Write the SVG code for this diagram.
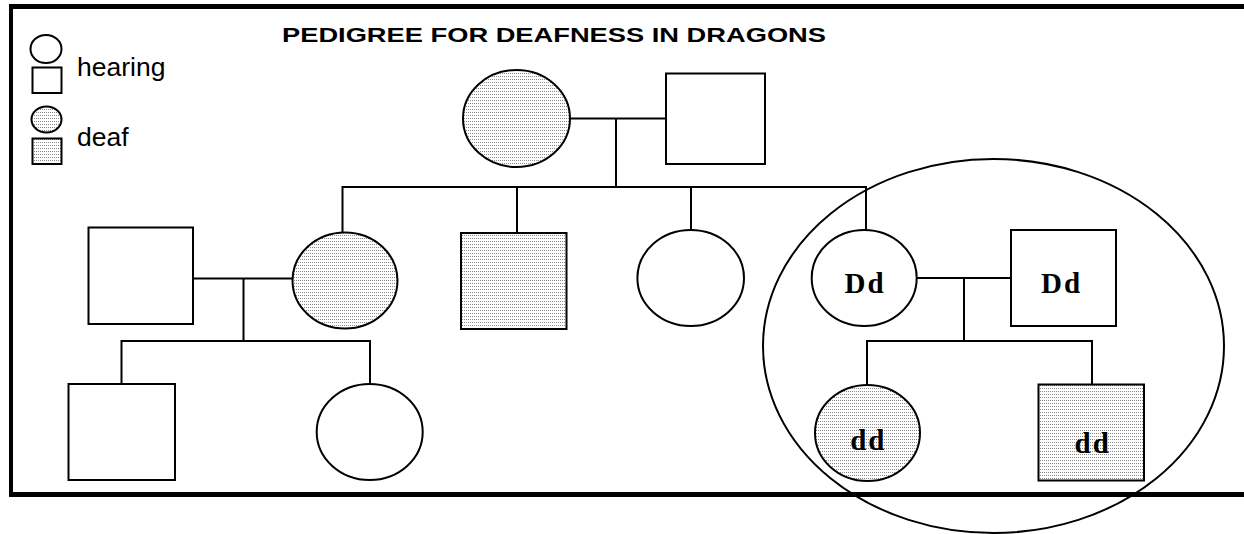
<svg xmlns="http://www.w3.org/2000/svg" width="1244" height="534" viewBox="0 0 1244 534">
  <defs>
    <!-- stipple fill used for affected (deaf) individuals -->
    <pattern id="stipple" patternUnits="userSpaceOnUse" width="2" height="3">
      <rect width="2" height="3" fill="#ffffff"/>
      <rect x="0" y="1" width="1" height="1" fill="#8a8a8a"/>
    </pattern>
  </defs>
  <style>
    .frame { stroke: #000; fill: none; }
    .node { stroke: #000; stroke-width: 2; fill: #fff; }
    .deaf { stroke: #000; stroke-width: 2; fill: url(#stipple); }
    .link { stroke: #000; stroke-width: 2; fill: none; }
    .legend { font-family: "Liberation Sans", Arial, sans-serif; font-size: 26.5px; fill: #000; }
    .title { font-family: "Liberation Sans", Arial, sans-serif; font-size: 21px; font-weight: bold; fill: #000; }
    .geno { font-family: "Liberation Serif", "Times New Roman", serif; font-size: 29px; font-weight: bold; letter-spacing: 2px; fill: #000; text-anchor: middle; }
  </style>

  <rect width="1244" height="534" fill="#fff"/>

  <!-- outer frame: open on the right -->
  <g id="frame" class="frame">
    <line x1="9" y1="6.5" x2="1244" y2="6.5" stroke-width="5"/>
    <line x1="11" y1="4" x2="11" y2="497" stroke-width="4"/>
    <line x1="9" y1="494.5" x2="1244" y2="494.5" stroke-width="5"/>
  </g>

  <text id="title" class="title" x="282" y="42.3" textLength="544" lengthAdjust="spacingAndGlyphs">PEDIGREE FOR DEAFNESS IN DRAGONS</text>

  <!-- key -->
  <g id="legend">
    <ellipse class="node" cx="46" cy="49" rx="15.5" ry="14"/>
    <rect class="node" x="32.5" y="67.5" width="29" height="25.5"/>
    <text class="legend" x="77" y="75.5">hearing</text>
    <ellipse class="deaf" cx="46.5" cy="119.5" rx="15" ry="13"/>
    <rect class="deaf" x="32.5" y="138.5" width="29" height="25.5"/>
    <text class="legend" x="77" y="146">deaf</text>
  </g>

  <!-- connectors -->
  <g id="connectors" class="link">
    <!-- generation I -->
    <path d="M570 118.5 H666"/>
    <path d="M616 118.5 V187"/>
    <path d="M342.5 232.5 V187 H866 V230"/>
    <path d="M517 187 V233"/>
    <path d="M691 187 V230"/>
    <!-- left family -->
    <path d="M193 278.5 H293"/>
    <path d="M243.5 278.5 V341"/>
    <path d="M121.5 384 V341 H370 V384"/>
    <!-- right family -->
    <path d="M916.5 278 H1011"/>
    <path d="M964 278 V341"/>
    <path d="M867 385 V341 H1092 V384"/>
  </g>

  <!-- generation I -->
  <g id="grandmother"><ellipse class="deaf" cx="516.5" cy="118.5" rx="53.5" ry="48.5"/></g>
  <g id="grandfather"><rect class="node" x="666" y="73.5" width="99" height="90.5"/></g>

  <!-- generation II -->
  <g id="husband-left"><rect class="node" x="88.5" y="227.5" width="104.5" height="96.5"/></g>
  <g id="daughter-1"><ellipse class="deaf" cx="345" cy="280.5" rx="52.5" ry="48"/></g>
  <g id="son-1"><rect class="deaf" x="461" y="233" width="105.5" height="96"/></g>
  <g id="daughter-2"><ellipse class="node" cx="690.7" cy="278" rx="53.3" ry="48"/></g>
  <g id="daughter-3">
    <ellipse class="node" cx="864.2" cy="278" rx="52.5" ry="48"/>
    <text class="geno" x="865" y="292.7">Dd</text>
  </g>
  <g id="husband-right">
    <rect class="node" x="1011" y="230" width="105" height="96"/>
    <text class="geno" x="1061.5" y="292.7">Dd</text>
  </g>

  <!-- generation III -->
  <g id="grandson-left"><rect class="node" x="68.5" y="384" width="106.5" height="96"/></g>
  <g id="granddaughter-left"><ellipse class="node" cx="369.7" cy="432" rx="53" ry="48"/></g>
  <g id="granddaughter-right">
    <ellipse class="deaf" cx="867.5" cy="433" rx="52.5" ry="48"/>
    <text class="geno" x="868.3" y="450">dd</text>
  </g>
  <g id="grandson-right">
    <rect class="deaf" x="1038.5" y="384.5" width="105.5" height="96"/>
    <text class="geno" x="1092.7" y="453.3">dd</text>
  </g>

  <!-- circled family -->
  <g id="highlight"><ellipse cx="993.5" cy="346" rx="230.5" ry="187" fill="none" stroke="#000" stroke-width="2"/></g>
</svg>
